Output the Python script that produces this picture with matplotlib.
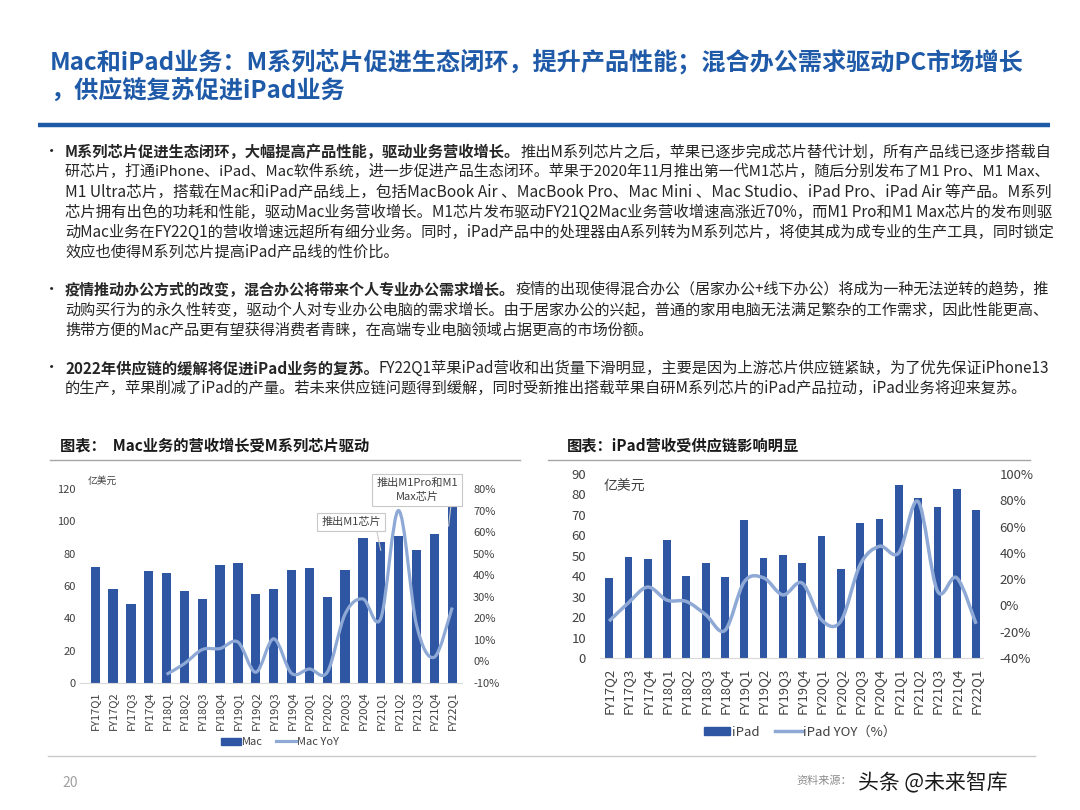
import numpy as np
import matplotlib
matplotlib.use('Agg')
import matplotlib.pyplot as plt
from matplotlib.path import Path
from matplotlib.patches import PathPatch, Patch
from matplotlib.lines import Line2D

plt.rcParams['font.family'] = ['Noto Sans CJK SC', 'DejaVu Sans']

# ---- data ----
mac_quarters = ['FY17Q1', 'FY17Q2', 'FY17Q3', 'FY17Q4', 'FY18Q1', 'FY18Q2', 'FY18Q3',
                'FY18Q4', 'FY19Q1', 'FY19Q2', 'FY19Q3', 'FY19Q4', 'FY20Q1', 'FY20Q2',
                'FY20Q3', 'FY20Q4', 'FY21Q1', 'FY21Q2', 'FY21Q3', 'FY21Q4', 'FY22Q1']
mac_revenue = [72, 58, 49, 69, 68, 57, 52, 73, 74, 55, 58, 70, 71, 53, 70, 90, 87, 91, 82, 92, 109]
# YoY only available from FY18Q1
mac_yoy = [np.nan, np.nan, np.nan, np.nan, -6, -1, 5.5, 6, 9, -5, 10.5, -5.5, -3.5, -5,
           22, 29, 20, 70, 17, 2, 25]

ipad_quarters = ['FY17Q2', 'FY17Q3', 'FY17Q4', 'FY18Q1', 'FY18Q2', 'FY18Q3', 'FY18Q4',
                 'FY19Q1', 'FY19Q2', 'FY19Q3', 'FY19Q4', 'FY20Q1', 'FY20Q2', 'FY20Q3',
                 'FY20Q4', 'FY21Q1', 'FY21Q2', 'FY21Q3', 'FY21Q4', 'FY22Q1']
ipad_revenue = [38.9, 49.6, 48.3, 57.6, 40.1, 46.3, 39.8, 67.3, 48.7, 50.2, 46.6, 59.8,
                43.7, 65.8, 68.0, 84.4, 78.1, 73.7, 82.5, 72.5]
ipad_yoy = [-12, 2, 14, 4, 3, -7, -19, 18, 21, 8, 17, -11, -12, 31, 45, 40, 79, 11, 21, -14]

title_lines = ['Mac和iPad业务：M系列芯片促进生态闭环，提升产品性能；混合办公需求驱动PC市场增长',
               '，供应链复苏促进iPad业务']

bullets = [
    [('M系列芯片促进生态闭环，大幅提高产品性能，驱动业务营收增长。',
      '推出M系列芯片之后，苹果已逐步完成芯片替代计划，所有产品线已逐步搭载自'),
     ('', '研芯片，打通iPhone、iPad、Mac软件系统，进一步促进产品生态闭环。苹果于2020年11月推出第一代M1芯片，随后分别发布了M1 Pro、M1 Max、'),
     ('', 'M1 Ultra芯片，搭载在Mac和iPad产品线上，包括MacBook Air 、MacBook Pro、Mac Mini 、Mac Studio、iPad Pro、iPad Air 等产品。M系列'),
     ('', '芯片拥有出色的功耗和性能，驱动Mac业务营收增长。M1芯片发布驱动FY21Q2Mac业务营收增速高涨近70%，而M1 Pro和M1 Max芯片的发布则驱'),
     ('', '动Mac业务在FY22Q1的营收增速远超所有细分业务。同时，iPad产品中的处理器由A系列转为M系列芯片，将使其成为成专业的生产工具，同时锁定'),
     ('', '效应也使得M系列芯片提高iPad产品线的性价比。')],
    [('疫情推动办公方式的改变，混合办公将带来个人专业办公需求增长。',
      '疫情的出现使得混合办公（居家办公+线下办公）将成为一种无法逆转的趋势，推'),
     ('', '动购买行为的永久性转变，驱动个人对专业办公电脑的需求增长。由于居家办公的兴起，普通的家用电脑无法满足繁杂的工作需求，因此性能更高、'),
     ('', '携带方便的Mac产品更有望获得消费者青睐，在高端专业电脑领域占据更高的市场份额。')],
    [('2022年供应链的缓解将促进iPad业务的复苏。',
      'FY22Q1苹果iPad营收和出货量下滑明显，主要是因为上游芯片供应链紧缺，为了优先保证iPhone13'),
     ('', '的生产，苹果削减了iPad的产量。若未来供应链问题得到缓解，同时受新推出搭载苹果自研M系列芯片的iPad产品拉动，iPad业务将迎来复苏。')],
]
bullet_tops = [152, 290, 368]

BLUE = '#1F5AA8'
BAR = '#2F56A3'
LINE = '#8FA9D6'
TXT = '#262626'
GRAY = '#404040'

W, H = 1080, 810
fig = plt.figure(figsize=(10.8, 8.1), dpi=100)
renderer = fig.canvas.get_renderer()

# overlay axes in pixel coordinates for slide text
ax0 = fig.add_axes([0, 0, 1, 1])
ax0.set_xlim(0, W)
ax0.set_ylim(H, 0)
ax0.axis('off')

for i, t in enumerate(title_lines):
    ax0.text(50, 62 + 30 * i, t, color=BLUE, fontsize=17.4, weight='bold', va='center')
ax0.plot([38, 1050], [125, 125], color=BLUE, lw=3.2, solid_capstyle='butt')


def text_width(t):
    return t.get_window_extent(renderer).width


# body paragraphs, bold lead-in followed by normal text; full lines justified to the margin
X0, X1 = 65, 1052
for top, lines in zip(bullet_tops, bullets):
    ax0.text(52, top, '•', fontsize=11, color=TXT, va='center', ha='center')
    fs_used = 10.8
    for j, (bold, rest) in enumerate(lines):
        y = top + 20 * j
        fs = 10.8
        tb = ax0.text(X0, y, bold, fontsize=fs, weight='bold', color=TXT, va='center') if bold else None
        bw = text_width(tb) if bold else 0
        tr = ax0.text(X0 + bw, y, rest, fontsize=fs, color=TXT, va='center')
        total = bw + text_width(tr)
        last = j == len(lines) - 1
        if not last:
            fs = fs * (X1 - X0) / total
            fs_used = fs
        else:
            fs = fs_used
        tr.set_fontsize(fs)
        if tb is not None:
            tb.set_fontsize(fs)
            tr.set_x(X0 + text_width(tb))

# chart titles and separators
ax0.text(60, 445, '图表：  Mac业务的营收增长受M系列芯片驱动', fontsize=11, weight='bold', color='#1a1a1a', va='center')
ax0.text(567, 445, '图表：iPad营收受供应链影响明显', fontsize=11, weight='bold', color='#1a1a1a', va='center')
ax0.plot([50, 520], [460, 460], color='#A6A6A6', lw=1)
ax0.plot([548, 1030], [460, 460], color='#A6A6A6', lw=1)
ax0.plot([48, 1035], [756, 756], color='#C8C8C8', lw=1)

ax0.text(62, 783, '20', fontsize=10, color='#A0A0A0', va='center')
ax0.text(796, 781, '资料来源：', fontsize=8, color='#8C8C8C', va='center')
ax0.text(858, 783, '头条 @未来智库', fontsize=15, color='#1a1a1a', va='center')


def fig_rect(l, t, r, b):
    return [l / W, 1 - b / H, (r - l) / W, (b - t) / H]


def smooth_line(ax, x, y, **kw):
    pts = np.column_stack([x, y])
    n = len(pts)
    verts = [pts[0]]
    codes = [Path.MOVETO]
    for i in range(n - 1):
        p0 = pts[max(i - 1, 0)]
        p1 = pts[i]
        p2 = pts[i + 1]
        p3 = pts[min(i + 2, n - 1)]
        verts += [p1 + (p2 - p0) / 6, p2 - (p3 - p1) / 6, p2]
        codes += [Path.CURVE4] * 3
    ax.add_patch(PathPatch(Path(verts, codes), fill=False, **kw))


def style_axes(ax, axr, fs, padl, padr, padx):
    for s in ['top', 'left', 'right']:
        ax.spines[s].set_visible(False)
    ax.spines['bottom'].set_color('#D9D9D9')
    for s in axr.spines.values():
        s.set_visible(False)
    ax.tick_params(axis='y', length=0, labelsize=fs, labelcolor=GRAY, pad=padl)
    ax.tick_params(axis='x', length=0, labelsize=fs, labelcolor=GRAY, pad=padx)
    axr.tick_params(axis='y', length=0, labelsize=fs, labelcolor=GRAY, pad=padr)


# ---- Mac chart ----
ax1 = fig.add_axes(fig_rect(80, 489, 462, 683))
xm = np.arange(len(mac_quarters))
ax1.bar(xm, mac_revenue, width=0.52, color=BAR)
ax1.set_ylim(0, 120)
ax1.set_yticks(range(0, 121, 20))
ax1.set_xlim(-0.85, 20.55)
ax1.set_xticks(xm, mac_quarters, rotation=90)
ax1r = ax1.twinx()
ax1r.set_ylim(-10, 80)
ax1r.set_yticks(range(-10, 81, 10), [f'{v}%' for v in range(-10, 81, 10)])
mask = ~np.isnan(mac_yoy)
smooth_line(ax1r, xm[mask], np.array(mac_yoy)[mask], color=LINE, lw=2.3)
style_axes(ax1, ax1r, 8, 3, 8, 6)
ax1.text(0.02, 1.04, '亿美元', transform=ax1.transAxes, fontsize=7, color=GRAY, va='center')

box = dict(boxstyle='square,pad=0.35', fc='white', ec='#C8C8C8', lw=0.8)
ax1.annotate('推出M1芯片', xy=(16, 82), xytext=(351, 522), textcoords=ax0.transData,
             fontsize=8, color=GRAY, ha='center', va='center', bbox=box,
             arrowprops=dict(arrowstyle='-', color='#C8C8C8', lw=0.8, relpos=(0.92, 0),
                             shrinkA=0, shrinkB=0))
ax1.annotate('推出M1Pro和M1\nMax芯片', xy=(19.8, 97), xytext=(417, 490), textcoords=ax0.transData,
             fontsize=8, color=GRAY, ha='center', va='center', bbox=box, linespacing=1.5,
             arrowprops=dict(arrowstyle='-', color='#C8C8C8', lw=0.8, relpos=(0.92, 0),
                             shrinkA=0, shrinkB=0))

h1 = [Patch(color=BAR), Line2D([], [], color=LINE, lw=2.3)]
fig.legend(h1, ['Mac', 'Mac YoY'], loc='center', bbox_to_anchor=(280 / W, 1 - 742 / H),
           ncol=2, frameon=False, fontsize=8, handlelength=1.8, handleheight=0.6,
           columnspacing=1.2, handletextpad=0.1, labelcolor=GRAY)

# ---- iPad chart ----
ax2 = fig.add_axes(fig_rect(600, 474, 983, 658))
xi = np.arange(len(ipad_quarters))
ax2.bar(xi, ipad_revenue, width=0.4, color=BAR)
ax2.set_ylim(0, 90)
ax2.set_yticks(range(0, 91, 10))
ax2.set_xlim(-0.47, 19.36)
ax2.set_xticks(xi, ipad_quarters, rotation=90)
ax2r = ax2.twinx()
ax2r.set_ylim(-40, 100)
ax2r.set_yticks(range(-40, 101, 20), [f'{v}%' for v in range(-40, 101, 20)])
smooth_line(ax2r, xi, ipad_yoy, color=LINE, lw=2.5)
style_axes(ax2, ax2r, 9.5, 10, 12, 7)
ax2.text(0.01, 0.93, '亿美元', transform=ax2.transAxes, fontsize=10, color=GRAY, va='center')

h2 = [Patch(color=BAR), Line2D([], [], color=LINE, lw=2.5)]
fig.legend(h2, ['iPad', 'iPad YOY（%）'], loc='center', bbox_to_anchor=(800 / W, 1 - 732 / H),
           ncol=2, frameon=False, fontsize=9.5, handlelength=2.0, handleheight=0.6,
           columnspacing=1.2, handletextpad=0.1, labelcolor=GRAY)

fig.savefig('out.png', dpi=100)
